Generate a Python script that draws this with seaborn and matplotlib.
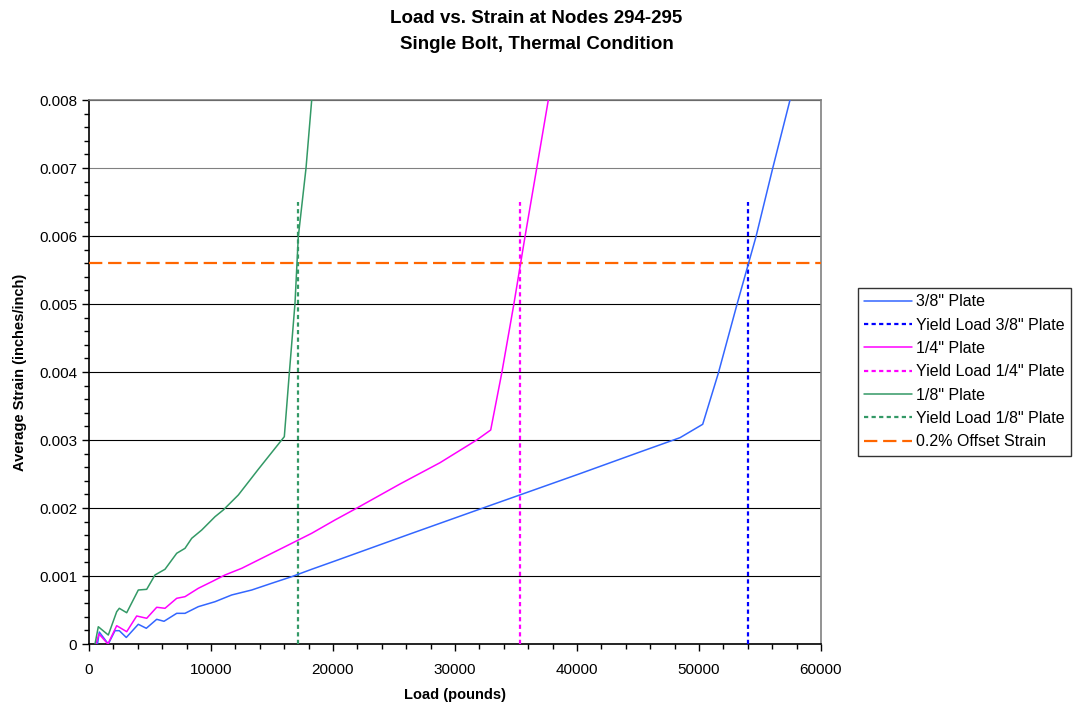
import numpy as np
import pandas as pd
import matplotlib
matplotlib.use("Agg")
import matplotlib.pyplot as plt
import seaborn as sns
from matplotlib.ticker import MultipleLocator, FuncFormatter
from matplotlib.lines import Line2D

# ---------------- data ----------------
load_38 = [697, 845, 1582, 2131, 2484, 3057, 4041, 4697, 5549, 6148, 7189, 7869,
           8959, 10328, 11697, 13336, 14975, 16615, 18254, 20164, 26311, 32295,
           40164, 45164, 48443, 50303, 51582, 53139, 54672, 56041, 57459]
strain_38 = [0.0, 0.000176, 0.0, 0.000196, 0.000196, 0.000096, 0.00029, 0.000231,
             0.000363, 0.000334, 0.000451, 0.000451, 0.000549, 0.000622, 0.000721,
             0.000794, 0.000893, 0.00099, 0.001099, 0.001221, 0.001618, 0.002,
             0.0025, 0.002824, 0.003034, 0.003231, 0.003981, 0.00501, 0.00599,
             0.006996, 0.008]

load_14 = [574, 820, 1550, 2270, 3090, 3910, 4730, 5550, 6230, 7189, 7869, 8959,
           10057, 11148, 12517, 13877, 16066, 18254, 20164, 21967, 25492, 28770,
           31779, 32926, 33828, 34836, 35738, 36697, 37648]
strain_14 = [0.0, 0.000147, 0.0, 0.000269, 0.000181, 0.000412, 0.000378, 0.00054,
             0.000525, 0.000672, 0.000696, 0.000819, 0.000916, 0.001015, 0.001113,
             0.001235, 0.001431, 0.001628, 0.001824, 0.002, 0.002353, 0.002666,
             0.003, 0.003147, 0.003981, 0.00501, 0.00599, 0.006996, 0.008]

load_18 = [492, 762, 1582, 2270, 2484, 3090, 4041, 4730, 5410, 6230, 7189, 7869,
           8418, 9238, 10328, 11008, 12238, 13197, 13877, 16010, 16418, 16885,
           17156, 17787, 18254]
strain_18 = [0.0, 0.000254, 0.000132, 0.000475, 0.000525, 0.00046, 0.000794,
             0.000804, 0.001015, 0.001099, 0.001334, 0.001407, 0.001554, 0.001676,
             0.001872, 0.001971, 0.002191, 0.002412, 0.002569, 0.003049, 0.003981,
             0.00501, 0.00599, 0.006996, 0.008]

yield_load_38 = 54040
yield_load_14 = 35330
yield_load_18 = 17150
yield_strain_span = [0.0, 0.0065]

offset_strain = 0.0056
offset_load_span = [0, 60000]

legend_labels = ['3/8" Plate', 'Yield Load 3/8" Plate', '1/4" Plate',
                 'Yield Load 1/4" Plate', '1/8" Plate', 'Yield Load 1/8" Plate',
                 '0.2% Offset Strain']

x_ticks = [0, 10000, 20000, 30000, 40000, 50000, 60000]
y_ticks = [0, 0.001, 0.002, 0.003, 0.004, 0.005, 0.006, 0.007, 0.008]

# ---------------- style ----------------
sns.set_style("white")
plt.rcParams['font.family'] = ['Liberation Sans', 'DejaVu Sans']
plt.rcParams['text.color'] = 'black'
plt.rcParams['axes.labelcolor'] = 'black'
plt.rcParams['xtick.color'] = 'black'
plt.rcParams['ytick.color'] = 'black'

fig = plt.figure(figsize=(10.73, 7.09), dpi=100)
ax = fig.add_axes([89 / 1073, 65 / 709, 732 / 1073, 544 / 709])

c38, c38y = '#3366FF', '#0000FF'
c14 = '#FF00FF'
c18 = '#339966'
coff = '#FF6600'

lw_curve = 1.1
lw_dot = 1.6
dot_dash = (1.9, 1.5)

sns.lineplot(x=load_38, y=strain_38, ax=ax, color=c38, lw=lw_curve, sort=False,
             estimator=None, zorder=4)
sns.lineplot(x=[yield_load_38] * 2, y=yield_strain_span, ax=ax, color=c38y,
             lw=lw_dot, sort=False, estimator=None, zorder=3)
sns.lineplot(x=load_14, y=strain_14, ax=ax, color=c14, lw=lw_curve, sort=False,
             estimator=None, zorder=4)
sns.lineplot(x=[yield_load_14] * 2, y=yield_strain_span, ax=ax, color=c14,
             lw=lw_dot, sort=False, estimator=None, zorder=3)
sns.lineplot(x=load_18, y=strain_18, ax=ax, color=c18, lw=lw_curve, sort=False,
             estimator=None, zorder=4)
sns.lineplot(x=[yield_load_18] * 2, y=yield_strain_span, ax=ax, color=c18,
             lw=lw_dot, sort=False, estimator=None, zorder=3)
sns.lineplot(x=offset_load_span, y=[offset_strain] * 2, ax=ax, color=coff,
             lw=1.6, sort=False, estimator=None, zorder=3)

lines = ax.get_lines()
for i in (1, 3, 5):
    lines[i].set_dashes(dot_dash)
lines[6].set_dashes((6.0, 2.6))

ax.set_xlim(0, 60000)
ax.set_ylim(0, 0.008)
ax.set_xticks(x_ticks)
ax.set_yticks(y_ticks)
ax.xaxis.set_minor_locator(MultipleLocator(2000))
ax.yaxis.set_minor_locator(MultipleLocator(0.0002))
ax.xaxis.set_major_formatter(FuncFormatter(lambda v, p: f"{int(round(v))}"))
ax.yaxis.set_major_formatter(FuncFormatter(lambda v, p: "0" if abs(v) < 1e-12 else f"{v:.3f}"))

ax.tick_params(axis='both', which='major', direction='out', length=5, width=1,
               color='black', labelsize=11, labelcolor='black')
ax.tick_params(axis='y', which='major', pad=3.5)
ax.tick_params(axis='x', which='major', pad=8.5)
ax.tick_params(axis='both', which='minor', direction='out', length=3.5, width=1,
               color='black')
ax.tick_params(bottom=True, left=True, which='both')

ax.yaxis.grid(True, which='major', color='black', lw=0.8)
ax.xaxis.grid(False)
grid = ax.get_ygridlines()
if len(grid) >= 8:
    grid[7].set_color('#808080')
ax.set_axisbelow(True)

for s in ('left', 'bottom'):
    ax.spines[s].set_color('black')
    ax.spines[s].set_linewidth(1.2)
for s in ('top', 'right'):
    ax.spines[s].set_color('#808080')
    ax.spines[s].set_linewidth(1.2)
    ax.spines[s].set_visible(True)

ax.set_xlabel('Load (pounds)', fontsize=10.5, fontweight='bold', labelpad=8,
              color='black')
ax.set_ylabel('Average Strain (inches/inch)', fontsize=10.5, fontweight='bold',
              labelpad=9, color='black')

fig.suptitle('Load vs. Strain at Nodes 294-295\nSingle Bolt, Thermal Condition',
             x=0.5, y=1 - 10 / 709, va='top', fontsize=13.5, fontweight='bold',
             linespacing=1.68, color='black')

handles = [
    Line2D([], [], color=c38, lw=lw_curve),
    Line2D([], [], color=c38y, lw=lw_dot, dashes=dot_dash),
    Line2D([], [], color=c14, lw=lw_curve),
    Line2D([], [], color=c14, lw=lw_dot, dashes=dot_dash),
    Line2D([], [], color=c18, lw=lw_curve),
    Line2D([], [], color=c18, lw=lw_dot, dashes=dot_dash),
    Line2D([], [], color=coff, lw=1.6, dashes=(6.0, 2.6)),
]
leg = fig.legend(handles, legend_labels, loc='upper left',
                 bbox_to_anchor=(858 / 1073, 1 - 288 / 709), fontsize=11.5,
                 frameon=True, fancybox=False, edgecolor='black',
                 handlelength=3.0, handletextpad=0.2, labelspacing=0.52,
                 borderpad=0.4, borderaxespad=0)
leg.get_frame().set_linewidth(1.0)
for t in leg.get_texts():
    t.set_color('black')

fig.savefig('out.png', dpi=100)
